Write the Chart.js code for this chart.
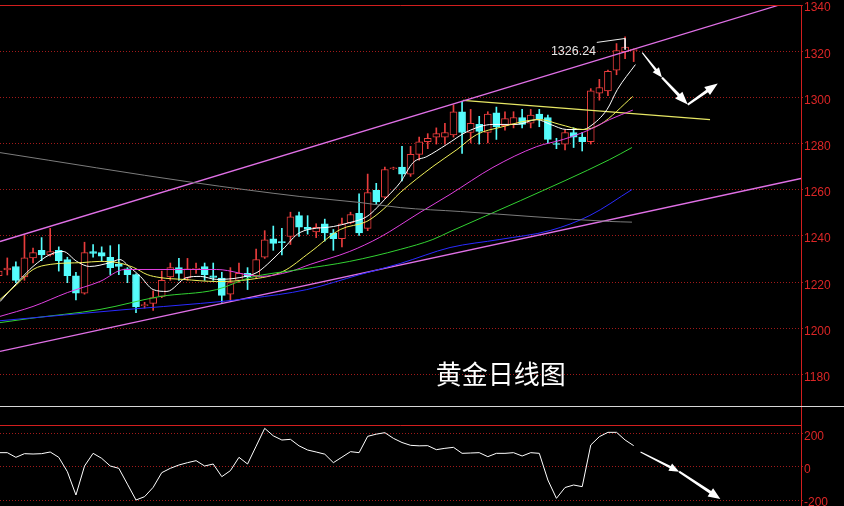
<!DOCTYPE html>
<html><head><meta charset="utf-8">
<script src="https://cdn.jsdelivr.net/npm/chart.js@4.4.0/dist/chart.umd.min.js"></script>
<style>
html,body{margin:0;padding:0;background:#000;width:844px;height:506px;overflow:hidden;}
#main{position:absolute;left:0;top:0;}
#sub{position:absolute;left:0;top:406px;}
</style></head><body>
<canvas id="main" width="844" height="406"></canvas>
<canvas id="sub" width="844" height="100"></canvas>
<script>
// ---------- DATA ----------
const opens = [1222.8,1225.3,1226.8,1222.3,1230.5,1233.8,1231.8,1233.8,1229.8,1222.8,
 1215.3,1233.3,1232.8,1230.8,1227.8,1225.8,1223.3,1209.8,1210.8,1213.8,
 1222.3,1226.3,1221.8,1225.6,1226.8,1222.8,1221.8,1214.8,1220.8,1223.8,
 1222.8,1230.8,1238.8,1237.5,1239.8,1248.8,1243.8,1241.8,1245.3,1241.3,
 1238.8,1245.8,1249.8,1243.3,1259.8,1256.8,1269.1,1269.8,1266.8,1275.3,
 1280.8,1282.8,1282.8,1283.8,1293.8,1284.8,1288.3,1284.8,1293.3,1287.8,
 1288.3,1291.3,1288.8,1292.8,1291.3,1280.0,1279.8,1284.8,1282.8,1280.8,
 1301.8,1302.8,1311.8,1319.8,1320.2];
const highs = [1225.8,1230.5,1228.8,1240.5,1234.8,1239.3,1243.3,1235.3,1230.8,1224.3,
 1237.3,1236.3,1235.3,1235.8,1236.3,1226.3,1223.6,1211.3,1216.3,1224.8,
 1228.3,1230.3,1230.3,1228.3,1228.3,1228.3,1224.3,1226.3,1228.3,1226.3,
 1234.3,1242.3,1244.3,1243.3,1250.3,1250.3,1248.8,1245.3,1247.3,1242.8,
 1247.8,1250.3,1258.3,1266.8,1262.8,1269.8,1269.8,1278.8,1278.8,1282.8,
 1284.3,1286.8,1288.8,1296.8,1298.3,1294.8,1291.8,1293.8,1295.8,1293.8,
 1293.8,1294.8,1294.8,1294.8,1292.3,1282.3,1285.8,1286.8,1284.8,1303.8,
 1307.8,1311.8,1323.3,1326.24,1321.0];
const lows = [1221.8,1223.1,1219.8,1220.8,1228.3,1229.3,1231.3,1224.8,1219.8,1212.3,
 1214.8,1230.8,1229.3,1223.3,1223.3,1219.8,1206.8,1208.8,1207.8,1213.3,
 1220.8,1220.8,1220.8,1223.8,1220.8,1220.8,1211.3,1212.3,1219.8,1216.8,
 1221.8,1230.3,1233.8,1231.8,1236.3,1239.8,1240.8,1239.3,1237.8,1233.8,
 1235.3,1245.3,1240.3,1242.3,1253.8,1256.3,1268.8,1263.8,1265.8,1272.8,
 1277.8,1279.8,1279.8,1282.8,1275.8,1280.3,1279.8,1280.3,1281.8,1285.8,
 1286.8,1286.8,1286.8,1287.3,1280.3,1277.8,1277.3,1278.3,1276.8,1279.8,
 1298.8,1300.8,1309.8,1316.8,1315.5];
const closes = [1224.8,1226.1,1220.8,1230.5,1232.8,1231.8,1233.3,1229.3,1222.8,1215.3,
 1232.8,1232.5,1231.3,1226.3,1226.8,1223.3,1209.3,1210.3,1213.3,1220.8,
 1226.3,1223.8,1225.8,1226.0,1223.3,1222.1,1214.3,1219.8,1223.8,1222.3,
 1229.8,1238.3,1236.8,1237.1,1248.3,1243.8,1242.8,1243.8,1241.3,1238.8,
 1245.3,1249.3,1241.3,1258.8,1254.8,1268.8,1269.5,1266.8,1275.3,1280.8,
 1282.3,1284.3,1284.8,1293.8,1284.8,1288.8,1285.3,1292.8,1287.3,1290.8,
 1291.3,1288.3,1292.3,1290.8,1281.8,1279.6,1284.8,1282.8,1280.8,1302.8,
 1304.3,1311.3,1320.3,1321.8,1320.7];

// moving-average lines (positions in candle index units, values in price)
const maWhiteX = [0.15,2.5,4.0,6.0,7.5,9.1,10.6,13.0,14.1,15.3,16.5,18.0,19.6,21.9,23.5,25.4,28.1,30.1,31.3,33.1,35.1,39.0,40.9,42.9,45.3,46.8,48.3,49.9,52.2,54.6,57.6,60.4,62.7,64.3,66.2,68.1,68.9,70.9,72.1,74.2];
const maWhite  = [1211.6,1221.2,1226.8,1232.0,1233.3,1229.0,1226.8,1228.5,1229.8,1226.4,1222.5,1216.8,1216.0,1222.0,1222.5,1221.2,1222.0,1224.2,1227.7,1234.2,1241.5,1244.1,1245.8,1248.4,1257.1,1263.2,1271.8,1274.4,1279.6,1285.2,1288.3,1288.3,1290.4,1288.3,1286.1,1286.1,1287.4,1294.8,1303.4,1314.2];
const maYellowX = [0.15,2.1,4.0,6.0,9.8,11.8,13.8,15.7,17.3,18.8,21.5,25.4,29.3,33.1,36.3,39.8,42.9,44.8,46.8,50.6,53.4,55.7,58.4,63.1,65.4,68.1,70.1,73.9];
const maYellow  = [1212.5,1219.0,1225.5,1227.7,1228.5,1229.0,1228.5,1226.4,1223.3,1222.0,1221.2,1220.3,1221.2,1224.6,1233.0,1242.8,1246.3,1251.5,1258.8,1270.1,1277.4,1283.9,1287.0,1290.4,1288.3,1286.1,1288.3,1300.4];
const maMagentaX = [0.15,4.0,8.0,11.8,14.7,18.8,25.4,30.5,33.95,36.3,40.9,44.4,49.1,52.6,57.6,62.7,65.8,68.9,71.2,73.9];
const maMagenta  = [1205.2,1209.5,1215.5,1220.3,1225.5,1225.5,1225.5,1222.5,1224.6,1227.7,1233.3,1239.4,1250.2,1258.0,1269.7,1278.7,1281.8,1286.1,1290.4,1294.5];
const maGreenX = [0.15,3.6,11.8,18.8,25.4,29.3,35.1,40.9,46.8,50.6,52.6,60.8,71.2,73.8];
const maGreen  = [1202.5,1204.3,1208.2,1213.8,1216.8,1222.0,1225.5,1229.0,1234.2,1238.5,1241.9,1255.3,1273.1,1278.3];
const maBlueX = [0.15,14.95,23.5,29.3,35.9,42.1,46.8,52.6,58.4,64.3,68.9,73.8];
const maBlue  = [1203.3,1208.2,1210.8,1213.0,1216.8,1223.3,1228.1,1235.0,1238.5,1242.4,1248.9,1260.1];
const maGrayX = [0.15,22.6,35.1,42.1,46.8,53.8,71.2,73.8];
const maGray  = [1276.1,1263.2,1257.1,1254.5,1252.3,1250.6,1246.3,1246.0];

// drawn trend lines
const channelUpperX = [0.15, 90.8], channelUpper = [1237.6, 1339.8];
const channelLowerX = [0.15, 93.5], channelLower = [1190.0, 1264.9];
const trendX = [54.1, 82.9], trend = [1298.7, 1290.4];
const leaderX = [69.7, 73.0, 73.0], leader = [1323.8, 1325.5, 1320.7];

// CCI indicator, one value per candle
const cci = [84,84,56,78,76,78,88,56,-30,-170,
 4,80,50,4,-10,-105,-200,-180,-124,-36,
 -10,10,24,36,4,16,-60,-24,56,16,
 123,230,185,160,164,125,100,88,75,24,
 57,90,84,182,195,204,170,145,128,125,
 126,102,110,116,80,82,84,60,80,80,
 84,64,84,80,-80,-190,-125,-110,-120,130,
 180,206,206,160,126];

// tick labels
const priceTicks = [1180,1200,1220,1240,1260,1280,1300,1320,1340];
const cciTicks = [200,0,-200];

// annotations
const peakLabel = '1326.24', peakLabelPos = [64.35, 1320.0];
const title = '黄金日线图', titlePos = [58.5, 1180.0];
const arrowMain = [[75.0,1319.4],[77.3,1308.6],[80.3,1296.9],[83.8,1306.0]];
const arrowCCI = [[74.8,88],[79.3,-30],[84.1,-194]];

// ---------- CHART ----------
const X_MIN = 0.15, X_MAX = 93.5;
const RED = '#e83c3c', CYAN = '#55fcfc', AXIS_RED = '#d21e1e', GRID_RED = '#a21a1a', LABEL_RED = '#dc2626';
Chart.defaults.font.family = '"Liberation Sans", Arial, sans-serif';

const pts = (xs, ys) => xs.map((x, i) => ({x, y: ys[i]}));
const idx = opens.map((_, i) => i);
const up = idx.map(i => closes[i] >= opens[i]);

function lineDs(data, color, width, smooth) {
  return {type: 'line', data, borderColor: color, borderWidth: width, pointRadius: 0,
    fill: false, order: 0, tension: 0, cubicInterpolationMode: smooth ? 'monotone' : 'default'};
}

function yAxis(min, max, ticks) {
  return {
    position: 'right', min, max,
    afterBuildTicks: s => { s.ticks = ticks.map(v => ({value: v})); },
    afterFit: s => { s.width = 43; s.paddingTop = 0; s.paddingBottom = 0; },
    grid: {color: GRID_RED, lineWidth: 1, tickLength: 2, drawTicks: true},
    border: {display: false, dash: [1, 2]},
    ticks: {color: LABEL_RED, font: {size: 12}, padding: 1, labelOffset: 3,
            callback: v => String(v)}
  };
}

function drawArrow(ctx, x0, y0, x1, y1, headLen, headW, tailW, shaftW) {
  const dx = x1 - x0, dy = y1 - y0, len = Math.hypot(dx, dy);
  const ux = dx / len, uy = dy / len, nx = -uy, ny = ux;
  const bx = x1 - ux * headLen, by = y1 - uy * headLen;
  ctx.beginPath();
  ctx.moveTo(x0 + nx * tailW / 2, y0 + ny * tailW / 2);
  ctx.lineTo(bx + nx * shaftW / 2, by + ny * shaftW / 2);
  ctx.lineTo(bx + nx * headW / 2, by + ny * headW / 2);
  ctx.lineTo(x1, y1);
  ctx.lineTo(bx - nx * headW / 2, by - ny * headW / 2);
  ctx.lineTo(bx - nx * shaftW / 2, by - ny * shaftW / 2);
  ctx.lineTo(x0 - nx * tailW / 2, y0 - ny * tailW / 2);
  ctx.closePath();
  ctx.fill();
}

const mainExtras = {
  id: 'mainExtras',
  afterDatasetsDraw(chart) {
    const {ctx, chartArea: a, scales: {x, y}, height} = chart;
    ctx.save();
    ctx.strokeStyle = AXIS_RED; ctx.lineWidth = 1;
    ctx.beginPath();
    const ty = Math.round(y.getPixelForValue(1340)) + 0.5;
    const rx = Math.round(a.right) + 0.5;
    ctx.moveTo(a.left, ty); ctx.lineTo(rx, ty);
    ctx.moveTo(rx, ty); ctx.lineTo(rx, height);
    ctx.stroke();
    ctx.fillStyle = '#e6e6e6';
    ctx.font = '12.5px "Liberation Sans", Arial, sans-serif';
    ctx.textAlign = 'left'; ctx.textBaseline = 'middle';
    ctx.fillText(peakLabel, x.getPixelForValue(peakLabelPos[0]), y.getPixelForValue(peakLabelPos[1]));
    ctx.fillStyle = '#ffffff';
    ctx.font = '26px "Noto Sans CJK SC", sans-serif';
    ctx.textAlign = 'center';
    ctx.fillText(title, x.getPixelForValue(titlePos[0]), y.getPixelForValue(titlePos[1]));
    const p = arrowMain.map(q => [x.getPixelForValue(q[0]), y.getPixelForValue(q[1])]);
    ctx.fillStyle = '#ffffff';
    drawArrow(ctx, p[0][0], p[0][1], p[1][0], p[1][1], 10, 8, 1, 2.5);
    drawArrow(ctx, p[1][0], p[1][1], p[2][0], p[2][1], 13, 10, 2, 3);
    drawArrow(ctx, p[2][0], p[2][1], p[3][0], p[3][1], 13, 10, 2, 3);
    ctx.restore();
  }
};

new Chart(document.getElementById('main'), {
  type: 'bar',
  data: {
    datasets: [
      {type: 'bar', data: idx.map(i => ({x: i, y: [lows[i], highs[i]]})),
       backgroundColor: up.map(u => u ? RED : CYAN), barThickness: 1, grouped: false, order: 3},
      {type: 'bar', data: idx.map(i => ({x: i, y: [opens[i], closes[i]]})),
       backgroundColor: up.map(u => u ? '#000000' : CYAN), borderColor: up.map(u => u ? RED : CYAN),
       borderWidth: 1, borderSkipped: false, barThickness: 7, minBarLength: 1, grouped: false, order: 2},
      lineDs(pts(maGrayX, maGray), '#7c7c7c', 1, true),
      lineDs(pts(maBlueX, maBlue), '#2a2aff', 1, true),
      lineDs(pts(maGreenX, maGreen), '#32d232', 1, true),
      lineDs(pts(maMagentaX, maMagenta), '#e040e0', 1, true),
      lineDs(pts(maYellowX, maYellow), '#f2f25a', 1, true),
      lineDs(pts(maWhiteX, maWhite), '#ffffff', 1, true),
      lineDs(pts(channelUpperX, channelUpper), '#e070e6', 1.3, false),
      lineDs(pts(channelLowerX, channelLower), '#e070e6', 1.3, false),
      lineDs(pts(trendX, trend), '#e6e664', 1.2, false),
      lineDs(pts(leaderX, leader), '#ececec', 1, false)
    ]
  },
  options: {
    responsive: false, animation: false, devicePixelRatio: 1,
    layout: {padding: {top: 5, left: 0, right: 0, bottom: 0}},
    plugins: {legend: {display: false}, tooltip: {enabled: false}},
    scales: {
      x: {type: 'linear', min: X_MIN, max: X_MAX, display: false, offset: false, grid: {offset: false}},
      y: yAxis(1166.4, 1340, priceTicks)
    }
  },
  plugins: [mainExtras]
});

const subExtras = {
  id: 'subExtras',
  afterDatasetsDraw(chart) {
    const {ctx, chartArea: a, scales: {x, y}, width, height} = chart;
    ctx.save();
    ctx.strokeStyle = '#d6d6d6'; ctx.lineWidth = 1;
    ctx.beginPath(); ctx.moveTo(0, 0.5); ctx.lineTo(width, 0.5); ctx.stroke();
    ctx.strokeStyle = AXIS_RED;
    ctx.beginPath();
    const ty = Math.round(a.top) + 0.5;
    const rx = Math.round(a.right) + 0.5;
    ctx.moveTo(a.left, ty); ctx.lineTo(rx, ty);
    ctx.moveTo(rx, 1); ctx.lineTo(rx, height);
    ctx.stroke();
    const p = arrowCCI.map(q => [x.getPixelForValue(q[0]), y.getPixelForValue(q[1])]);
    ctx.fillStyle = '#ffffff';
    drawArrow(ctx, p[0][0], p[0][1], p[1][0], p[1][1], 10, 8, 1, 2.5);
    drawArrow(ctx, p[1][0], p[1][1], p[2][0], p[2][1], 12, 10, 2, 3);
    ctx.restore();
  }
};

new Chart(document.getElementById('sub'), {
  type: 'line',
  data: {datasets: [
    {data: cci.map((v, i) => ({x: i, y: v})), borderColor: '#ffffff', borderWidth: 1, pointRadius: 0, fill: false, tension: 0}
  ]},
  options: {
    responsive: false, animation: false, devicePixelRatio: 1,
    layout: {padding: {top: 19, left: 0, right: 0, bottom: 0}},
    plugins: {legend: {display: false}, tooltip: {enabled: false}},
    scales: {
      x: {type: 'linear', min: X_MIN, max: X_MAX, display: false, offset: false},
      y: yAxis(-236, 250, cciTicks)
    }
  },
  plugins: [subExtras]
});
</script>
</body></html>
